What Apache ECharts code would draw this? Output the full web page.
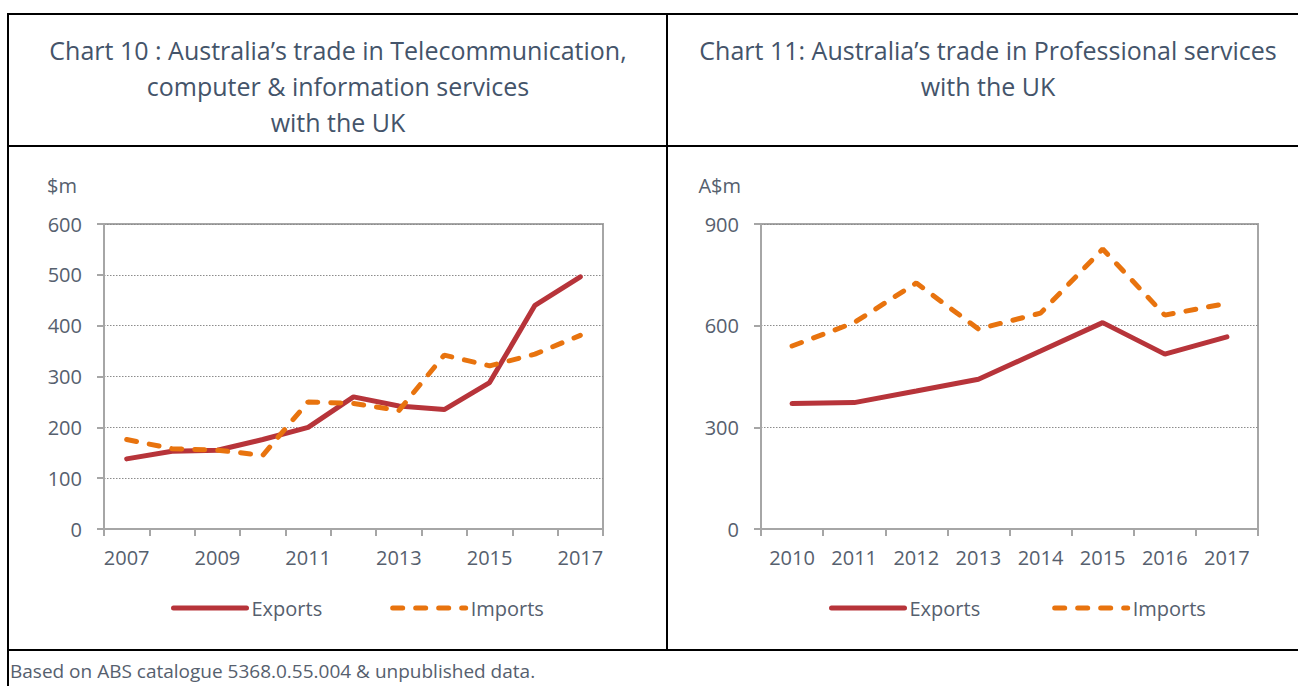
<!DOCTYPE html>
<html>
<head>
<meta charset="utf-8">
<script src="https://cdn.jsdelivr.net/npm/echarts@6/dist/echarts.min.js"></script>
<style>
  html, body { margin: 0; padding: 0; background: #fff; }
  #main { width: 1298px; height: 686px; }
</style>
</head>
<body>
<div id="main"></div>
<script>
// chart 10: telecom, computer & information services ($m)
const years10 = ['2007', '2008', '2009', '2010', '2011', '2012', '2013', '2014', '2015', '2016', '2017']
const exports10 = [138, 153, 155, 176, 200, 260, 242, 235, 288, 440, 496]
const imports10 = [176, 158, 155, 145, 250, 247, 233, 342, 321, 344, 381]
const ticks10 = [0, 100, 200, 300, 400, 500, 600]

// chart 11: professional services (A$m)
const years11 = ['2010', '2011', '2012', '2013', '2014', '2015', '2016', '2017']
const exports11 = [370, 373, 407, 442, 525, 609, 516, 567]
const imports11 = [540, 609, 726, 590, 637, 826, 631, 666]
const ticks11 = [0, 300, 600, 900]

const FONT = '"Open Sans", "Noto Sans", sans-serif'
const TXT = '#56606E'
const AXIS = '#A6A6A6'
const RED = '#B7343A'
const ORANGE = '#E8730E'

const chart = echarts.init(document.getElementById('main'), null, { renderer: 'svg' })

function xAxis(gi, data, labelEvery) {
  return {
    type: 'category', gridIndex: gi, data: data, boundaryGap: true,
    axisLine: { lineStyle: { color: AXIS, width: 2 } },
    axisTick: { show: true, interval: 0, length: 7, lineStyle: { color: AXIS, width: 2 } },
    axisLabel: { interval: labelEvery, margin: 18, color: TXT, fontSize: 20, fontFamily: FONT }
  }
}

function yAxis(gi, ticks, name, namePad) {
  return {
    type: 'value', gridIndex: gi, min: ticks[0], max: ticks[ticks.length - 1],
    interval: ticks[1] - ticks[0],
    name: name, nameLocation: 'end', nameGap: 29,
    nameTextStyle: { align: 'right', padding: [0, namePad, 0, 0], color: TXT, fontSize: 20, fontFamily: FONT },
    axisLine: { show: true, lineStyle: { color: AXIS, width: 2 } },
    axisTick: { show: true, length: 7, lineStyle: { color: AXIS, width: 2 } },
    axisLabel: { margin: 22, color: TXT, fontSize: 20, fontFamily: FONT },
    splitLine: { show: true, lineStyle: { color: '#8C8C8C', width: 1, type: [1.5, 1.5] } }
  }
}

function lines(gi, ex, im) {
  return [
    {
      name: 'Exports', type: 'line', xAxisIndex: gi, yAxisIndex: gi, data: ex,
      symbol: 'none', silent: true,
      lineStyle: { color: RED, width: 5, cap: 'round' },
      itemStyle: { color: RED }
    },
    {
      name: 'Imports', type: 'line', xAxisIndex: gi, yAxisIndex: gi, data: im,
      symbol: 'none', silent: true,
      lineStyle: { color: ORANGE, width: 5, type: [10, 13], cap: 'round' },
      itemStyle: { color: ORANGE }
    }
  ]
}

function legend(left, gap) {
  return {
    left: left, top: 593, itemWidth: 73, itemHeight: 12, itemGap: gap,
    data: ['Exports', 'Imports'],
    itemStyle: { opacity: 0 },
    lineStyle: { width: 'inherit', type: 'inherit', cap: 'round' },
    textStyle: { color: TXT, fontSize: 20, fontFamily: FONT }
  }
}

function title(x, text) {
  return {
    text: text, left: x, top: 32, padding: 0, textAlign: 'center',
    textStyle: { color: '#44546A', fontSize: 25, fontWeight: 'normal', fontFamily: FONT, lineHeight: 36 }
  }
}

function border(x1, y1, x2, y2) {
  return { type: 'line', shape: { x1: x1, y1: y1, x2: x2, y2: y2 }, style: { stroke: '#000', lineWidth: 2 }, silent: true }
}

chart.setOption({
  animation: false,
  title: [
    title(338, 'Chart 10 : Australia\u2019s trade in Telecommunication,\ncomputer & information services\nwith the UK'),
    title(988, 'Chart 11: Australia\u2019s trade in Professional services\nwith the UK')
  ],
  grid: [
    { left: 104, top: 224, width: 499, height: 305, show: true, borderColor: AXIS, borderWidth: 2 },
    { left: 761, top: 224, width: 497, height: 305, show: true, borderColor: AXIS, borderWidth: 2 }
  ],
  xAxis: [xAxis(0, years10, 1), xAxis(1, years11, 0)],
  yAxis: [yAxis(0, ticks10, '$m', 27), yAxis(1, ticks11, 'A$m', 20)],
  legend: [legend(166, 68), legend(824, 72)],
  series: lines(0, exports10, imports10).concat(lines(1, exports11, imports11)),
  graphic: [
    border(7, 14, 1298, 14),
    border(8, 14, 8, 686),
    border(667, 14, 667, 650),
    border(7, 146, 1298, 146),
    border(7, 650, 1298, 650),
    {
      type: 'text', left: 10, top: 661,
      style: { text: 'Based on ABS catalogue 5368.0.55.004 & unpublished data.', fill: TXT, fontSize: 19, fontFamily: FONT }
    }
  ]
})
</script>
</body>
</html>
